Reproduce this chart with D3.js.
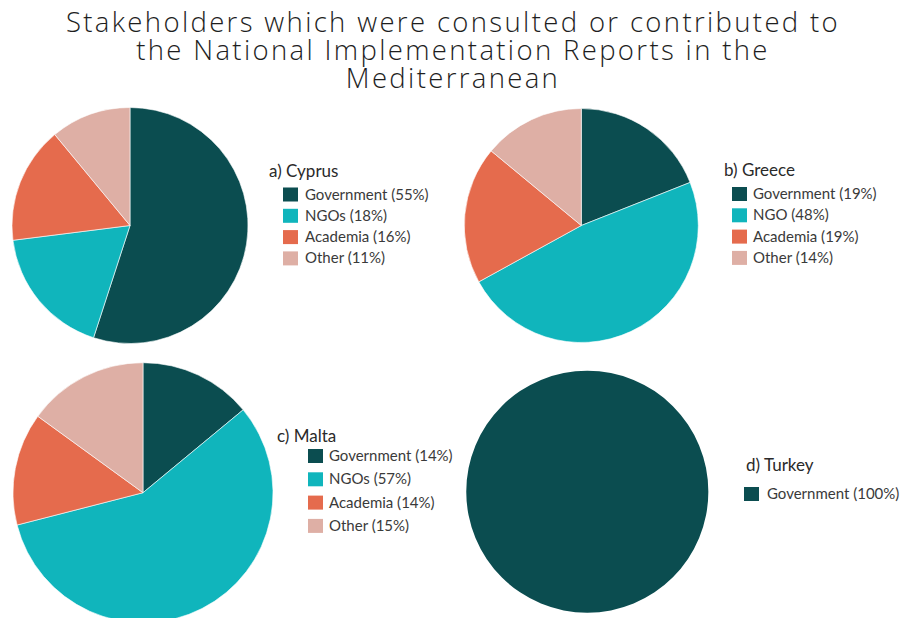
<!DOCTYPE html>
<html>
<head>
<meta charset="utf-8">
<script src="https://cdn.jsdelivr.net/npm/d3@7"></script>
<style>
  html, body { margin: 0; padding: 0; background: #fff; }
  svg { display: block; }
</style>
</head>
<body>
<svg id="chart" width="902" height="618"></svg>
<script>
// ---- data ----
const titleLines = [
  "Stakeholders which were consulted or contributed to",
  "the National Implementation Reports in the",
  "Mediterranean"
];
const categories = ["Government", "NGOs", "Academia", "Other"];
const countryTitles = ["a) Cyprus", "b) Greece", "c) Malta", "d) Turkey"];
const cyprusLabels = ["Government", "NGOs", "Academia", "Other"];
const cyprusValues = [55, 18, 16, 11];
const greeceLabels = ["Government", "NGO", "Academia", "Other"];
const greeceValues = [19, 48, 19, 14];
const maltaLabels = ["Government", "NGOs", "Academia", "Other"];
const maltaValues = [14, 57, 14, 15];
const turkeyLabels = ["Government"];
const turkeyValues = [100];

// ---- style / layout ----
const colors = ["#0b4d50", "#10b5bc", "#e56b4d", "#deafa5"];
const color = d3.scaleOrdinal().domain([0, 1, 2, 3]).range(colors);

const panels = [
  { title: countryTitles[0], labels: cyprusLabels, values: cyprusValues,
    cx: 130, cy: 225.5, r: 118,
    tx: 269, ty: 177, sx: 283, rowY: 194.5, rowStep: 21.3, textX: 305 },
  { title: countryTitles[1], labels: greeceLabels, values: greeceValues,
    cx: 581.3, cy: 225.5, r: 117,
    tx: 724, ty: 175.5, sx: 732, rowY: 194, rowStep: 21.3, textX: 753 },
  { title: countryTitles[2], labels: maltaLabels, values: maltaValues,
    cx: 143, cy: 492.7, r: 130,
    tx: 277, ty: 442, sx: 308, rowY: 456, rowStep: 23.3, textX: 329 },
  { title: countryTitles[3], labels: turkeyLabels, values: turkeyValues,
    cx: 587.3, cy: 491.7, r: 121,
    tx: 746, ty: 471, sx: 744, rowY: 494, rowStep: 23, textX: 767 }
];

const svg = d3.select("#chart");

// title
svg.append("g")
  .selectAll("text")
  .data(titleLines)
  .join("text")
  .attr("x", 453)
  .attr("y", (d, i) => 32 + i * 28)
  .attr("text-anchor", "middle")
  .attr("font-family", "'Open Sans', sans-serif")
  .attr("font-weight", 300)
  .attr("font-size", 27.5)
  .attr("letter-spacing", 2.35)
  .attr("fill", "#1e1e1e")
  .text(d => d);

const pie = d3.pie().sort(null).value(d => d.value);

panels.forEach(p => {
  const data = p.values.map((v, i) => ({ label: p.labels[i], value: v, idx: i }));
  const arc = d3.arc().innerRadius(0).outerRadius(p.r);
  const g = svg.append("g").attr("transform", `translate(${p.cx},${p.cy})`);
  g.selectAll("path")
    .data(pie(data))
    .join("path")
    .attr("d", arc)
    .attr("fill", d => color(d.data.idx))
    .attr("stroke", data.length > 1 ? "#ffffff" : "none")
    .attr("stroke-width", 0.6);

  const lg = svg.append("g");
  lg.append("text")
    .attr("x", p.tx)
    .attr("y", p.ty)
    .attr("font-family", "Lato, sans-serif")
    .attr("font-size", 17)
    .attr("fill", "#2a2a2a")
    .text(p.title);

  const rows = lg.selectAll("g.row")
    .data(data)
    .join("g")
    .attr("class", "row")
    .attr("transform", (d, i) => `translate(0,${p.rowY + i * p.rowStep})`);
  rows.append("rect")
    .attr("x", p.sx)
    .attr("y", -7)
    .attr("width", 15)
    .attr("height", 14)
    .attr("fill", d => color(d.idx));
  rows.append("text")
    .attr("x", p.textX)
    .attr("y", 5)
    .attr("font-family", "Lato, sans-serif")
    .attr("font-size", 15)
    .attr("fill", "#3a3a3a")
    .text(d => `${d.label} (${d.value}%)`);
});
</script>
</body>
</html>
